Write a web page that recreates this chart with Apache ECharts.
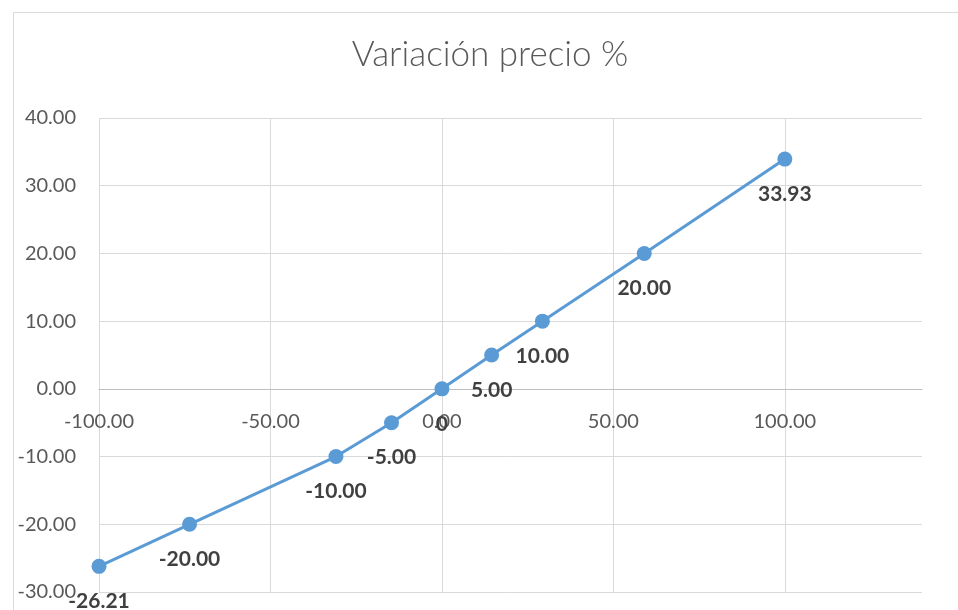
<!DOCTYPE html>
<html>
<head>
<meta charset="utf-8">
<script src="https://cdn.jsdelivr.net/npm/echarts@6/dist/echarts.min.js"></script>
<style>
  html, body { margin: 0; padding: 0; background: #fff; }
  #chart { width: 958px; height: 610px; }
</style>
</head>
<body>
<div id="chart"></div>
<script>
// Price change (%) against underlying variation
const xValues = [-100, -73.6, -30.9, -14.7, 0, 14.5, 29.3, 59.0, 100];
const yValues = [-26.21, -20, -10, -5, 0, 5, 10, 20, 33.93];
const titleText = 'Variación precio %';

const points = xValues.map((x, i) => [x, yValues[i]]);
const fontFamily = 'Lato, "Open Sans", sans-serif';
const gridColor = '#d9d9d9';

// plot area and value ranges
const gridTop = 118, gridBottom = 18, chartHeight = 610;
const yMin = -30, yMax = 40;
const plotHeight = chartHeight - gridTop - gridBottom;
// the horizontal axis sits on y = 0: shift it up from the bottom edge
const zeroShift = -plotHeight * (0 - yMin) / (yMax - yMin);

const chart = echarts.init(document.getElementById('chart'), null, { renderer: 'canvas' });

chart.setOption({
  backgroundColor: '#ffffff',
  animation: false,
  title: {
    text: titleText,
    left: 485,
    top: 32,
    textAlign: 'center',
    textStyle: {
      fontFamily: fontFamily,
      fontWeight: 300,
      fontSize: 35,
      color: '#595959'
    }
  },
  graphic: [{
    type: 'rect',
    left: 11,
    top: 10,
    shape: { width: 1000, height: 700 },
    style: { fill: 'none', stroke: '#d9d9d9', lineWidth: 1 },
    silent: true,
    z: -1
  }],
  grid: {
    left: 99,
    right: 36,
    top: gridTop,
    bottom: gridBottom,
    containLabel: false,
    outerBoundsMode: 'none'
  },
  xAxis: {
    type: 'value',
    min: -100,
    max: 140,
    interval: 50,
    position: 'bottom',
    offset: zeroShift,
    axisLine: { show: true, onZero: false, lineStyle: { color: '#bfbfbf', width: 1 } },
    axisTick: { show: false },
    axisLabel: {
      showMaxLabel: false,
      margin: 23,
      fontFamily: fontFamily,
      fontSize: 20,
      color: '#595959',
      formatter: v => v.toFixed(2)
    },
    splitLine: {
      show: true,
      lineStyle: { color: [gridColor, gridColor, gridColor, gridColor, gridColor, 'rgba(0,0,0,0)'], width: 1 }
    }
  },
  yAxis: {
    type: 'value',
    min: yMin,
    max: yMax,
    interval: 10,
    axisLine: { show: false, onZero: false },
    axisTick: { show: false },
    axisLabel: {
      margin: 23,
      fontFamily: fontFamily,
      fontSize: 20,
      color: '#595959',
      formatter: v => v.toFixed(2)
    },
    splitLine: { show: true, lineStyle: { color: gridColor, width: 1 } }
  },
  series: [{
    type: 'line',
    data: points,
    symbol: 'circle',
    symbolSize: 15,
    lineStyle: { color: '#5b9bd5', width: 3 },
    itemStyle: { color: '#5b9bd5' },
    label: {
      show: true,
      position: 'bottom',
      distance: 17,
      fontFamily: fontFamily,
      fontWeight: 'bold',
      fontSize: 21,
      color: '#404040',
      formatter: p => (p.value[1] === 0 ? '0' : p.value[1].toFixed(2))
    },
    z: 3
  }]
});
</script>
</body>
</html>
